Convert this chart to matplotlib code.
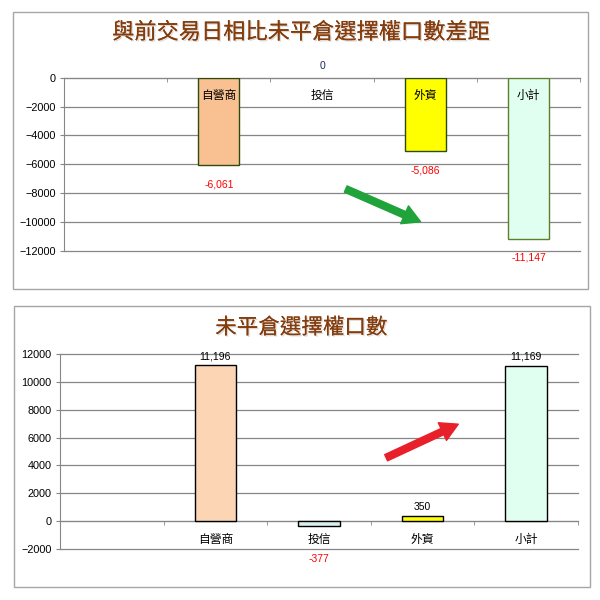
import matplotlib
matplotlib.use("Agg")
import matplotlib.pyplot as plt
import matplotlib.patheffects as pe
from matplotlib.patches import Rectangle

plt.rcParams['font.family'] = ['Liberation Sans', 'Noto Sans CJK TC']

# categories (first slot is empty in the original sheet)
categories = ["", "自營商", "投信", "外資", "小計"]

# top chart: change vs previous trading day
diff_title = "與前交易日相比未平倉選擇權口數差距"
diff_values = [None, -6061, 0, -5086, -11147]
diff_ticks = [0, -2000, -4000, -6000, -8000, -10000, -12000]

# bottom chart: open interest
oi_title = "未平倉選擇權口數"
oi_values = [None, 11196, -377, 350, 11169]
oi_ticks = [12000, 10000, 8000, 6000, 4000, 2000, 0, -2000]

diff_colors = [None, "#F9C191", None, "#FFFF00", "#E0FFF0"]
diff_edges = [None, "#2E4B0F", None, "#2E4B0F", "#5E7E2A"]
oi_colors = [None, "#FCD5B5", "#DAEEF0", "#FFFF00", "#E0FFF0"]

title_color = "#843C0C"
grid_color = "#868686"


def style_axes(ax, ticks):
    ax.set_yticks(ticks)
    ax.set_ylim(min(ticks), max(ticks))
    ax.set_xlim(-0.5, len(categories) - 0.5)
    ax.yaxis.grid(True, color=grid_color, linewidth=0.9)
    for line in ax.get_ygridlines():
        line.set_clip_on(False)
    ax.set_axisbelow(True)
    for side in ["top", "right"]:
        ax.spines[side].set_visible(False)
    ax.spines["left"].set_color(grid_color)
    ax.spines["bottom"].set_color(grid_color)
    ax.spines["bottom"].set_position(("data", 0))
    # category labels at centres, tick marks at slot boundaries
    ax.set_xticks(range(len(categories)))
    ax.set_xticklabels(categories, fontsize=8.5)
    ax.set_xticks([i - 0.5 for i in range(len(categories) + 1)], minor=True)
    ax.tick_params(axis="x", which="major", length=0, pad=7)
    ax.tick_params(axis="x", which="minor", length=3, direction="out", color=grid_color)
    ax.tick_params(axis="y", length=3, direction="out", color=grid_color, labelsize=7.8, pad=3)


def fmt(v):
    return f"{v:,}"


fig = plt.figure(figsize=(6, 6), dpi=100)

# panel frames
fig.patches.append(Rectangle((0.022, 0.518), 0.958, 0.462, transform=fig.transFigure,
                             fill=False, edgecolor="#A6A6A6", linewidth=1))
fig.patches.append(Rectangle((0.023, 0.022), 0.960, 0.468, transform=fig.transFigure,
                             fill=False, edgecolor="#A6A6A6", linewidth=1))

shadow = [pe.withSimplePatchShadow(offset=(1, -1), alpha=0.15), pe.Normal()]

# ---- top chart
ax1 = fig.add_axes([0.1067, 0.5817, 0.86, 0.2888])
style_axes(ax1, diff_ticks)
# labels sit over the bars here, so draw them as text on top
ax1.set_xticklabels([])
for i, name in enumerate(categories):
    ax1.annotate(name, xy=(i, 0), xytext=(0, -9), textcoords="offset points",
                 ha="center", va="top", fontsize=8.5, zorder=5)
for i, v in enumerate(diff_values):
    if v is None:
        continue
    if diff_colors[i] is not None:
        ax1.bar(i, v, width=0.4, color=diff_colors[i], edgecolor=diff_edges[i], linewidth=1, zorder=3)
    if v < 0:
        ax1.annotate(fmt(v), xy=(i, v), xytext=(0, -10), textcoords="offset points",
                     ha="center", va="top", fontsize=7.5, color="#FF0000", annotation_clip=False)
    else:
        ax1.annotate(fmt(v), xy=(i, v), xytext=(0, 5), textcoords="offset points",
                     ha="center", va="bottom", fontsize=7.5, color="#1F2A5A", annotation_clip=False)
fig.text(0.502, 0.945, diff_title, ha="center", va="center", fontsize=16,
         color=title_color, path_effects=shadow)
ax1.annotate("", xy=(0.696, 0.162), xytext=(0.541, 0.364), xycoords="axes fraction",
             arrowprops=dict(arrowstyle="simple,head_length=0.9,head_width=1.0,tail_width=0.35",
                             color="#1FA33A", mutation_scale=14))

# ---- bottom chart
ax2 = fig.add_axes([0.1, 0.085, 0.863, 0.325])
style_axes(ax2, oi_ticks)
ax2.tick_params(axis="x", which="major", pad=9)
for i, v in enumerate(oi_values):
    if v is None:
        continue
    ax2.bar(i, v, width=0.4, color=oi_colors[i], edgecolor="black", linewidth=1, zorder=3)
    if v < 0:
        ax2.annotate(fmt(v), xy=(i, v), xytext=(0, -20), textcoords="offset points",
                     ha="center", va="top", fontsize=7.5, color="#FF0000", annotation_clip=False)
    else:
        ax2.annotate(fmt(v), xy=(i, v), xytext=(0, 3), textcoords="offset points",
                     ha="center", va="bottom", fontsize=7.5, color="black", annotation_clip=False)
fig.text(0.502, 0.453, oi_title, ha="center", va="center", fontsize=15.5,
         color=title_color, path_effects=shadow)
ax2.annotate("", xy=(0.774, 0.646), xytext=(0.625, 0.462), xycoords="axes fraction",
             arrowprops=dict(arrowstyle="simple,head_length=0.9,head_width=1.0,tail_width=0.35",
                             color="#E8202A", mutation_scale=14))

plt.savefig("out.png", dpi=100)
